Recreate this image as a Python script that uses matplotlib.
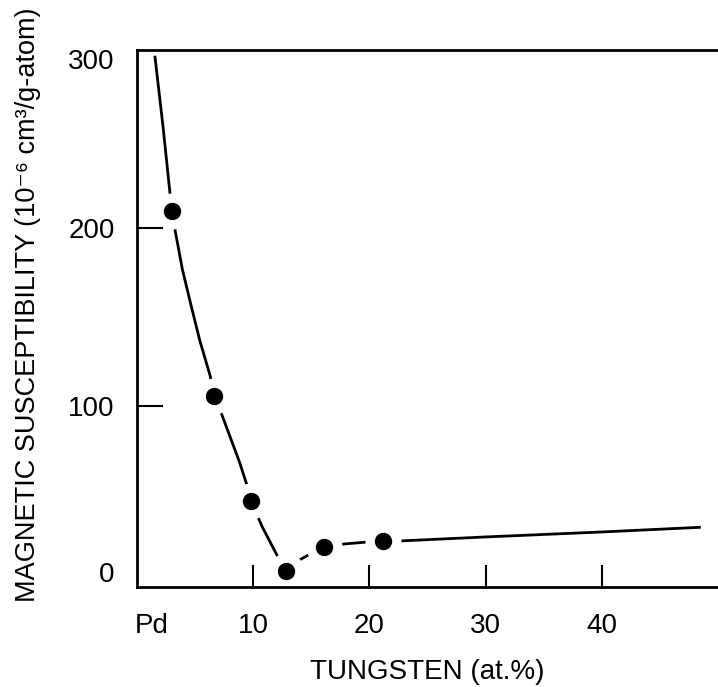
import matplotlib
matplotlib.use('Agg')
import matplotlib.pyplot as plt
import matplotlib.transforms as mtransforms

# measured points (at.% W, susceptibility 1e-6 cm3/g-atom)
tungsten = [3.0, 6.6, 9.8, 12.8, 16.1, 21.2]
chi = [209.5, 106, 46.6, 7.3, 20.8, 24.2]

# hand-drawn guide curve
curve_x = [1.55, 2.24, 3.0, 3.3, 3.9, 4.6, 5.4, 6.3, 6.6, 7.2, 8.0, 8.8, 9.5, 9.8,
           10.8, 12.1, 12.8, 13.8, 14.9, 16.1, 17.9, 19.9, 21.2, 22.8, 30, 40, 48.4]
curve_y = [296, 257, 209.5, 198, 177, 158, 137, 117, 106, 97, 83, 69, 55, 46.6,
           32, 15.7, 7.3, 13, 17, 20.8, 22.7, 23.8, 24.2, 24.4, 26.6, 29.4, 32]

xticks = [10, 20, 30, 40]
yticks = [0, 100, 200, 300]

plt.rcParams['font.family'] = ['Liberation Sans', 'DejaVu Sans']

fig = plt.figure(figsize=(7.18, 6.87), dpi=100)
ax = fig.add_axes([137/718, 1-587/687, 1-137/718, (587-50)/687])

ax.plot(curve_x, curve_y, color='black', lw=2, zorder=2)
# white halo breaks the curve around each point (kept under the spines)
ax.plot(tungsten, chi, 'o', color='white', ms=25, zorder=2.2)
ax.plot(tungsten, chi, 'o', color='black', ms=11.5, zorder=4)

ax.set_xlim(0, 50)
ax.set_ylim(-1.5, 300)
ax.spines['right'].set_visible(False)
for s in ['left', 'bottom', 'top']:
    ax.spines[s].set_linewidth(2)

ax.set_xticks(xticks)
ax.set_xticks([1.3], ['Pd'], minor=True)
ax.set_yticks(yticks)
ax.tick_params(axis='x', which='major', direction='in', length=16, width=1.5,
               pad=19, labelsize=20)
ax.tick_params(axis='x', which='minor', length=0, pad=19, labelsize=20)
ax.tick_params(axis='y', direction='in', length=19, width=1.5, pad=16, labelsize=20)

# no tick marks at 0 and 300; their labels sit a bit inside the frame
yt = ax.yaxis.get_major_ticks()
for t, dy in [(yt[0], 12), (yt[-1], -9)]:
    t.tick1line.set_visible(False)
    t.label1.set_transform(t.label1.get_transform() +
                           mtransforms.ScaledTranslation(0, dy / 100, fig.dpi_scale_trans))

ax.set_xlabel('TUNGSTEN (at.%)', fontsize=20, labelpad=14)
ax.set_ylabel('MAGNETIC SUSCEPTIBILITY (10⁻⁶ cm³/g-atom)', fontsize=19.5)
ax.yaxis.set_label_coords(-0.166, 0.525)

fig.savefig('out.png', dpi=100)
